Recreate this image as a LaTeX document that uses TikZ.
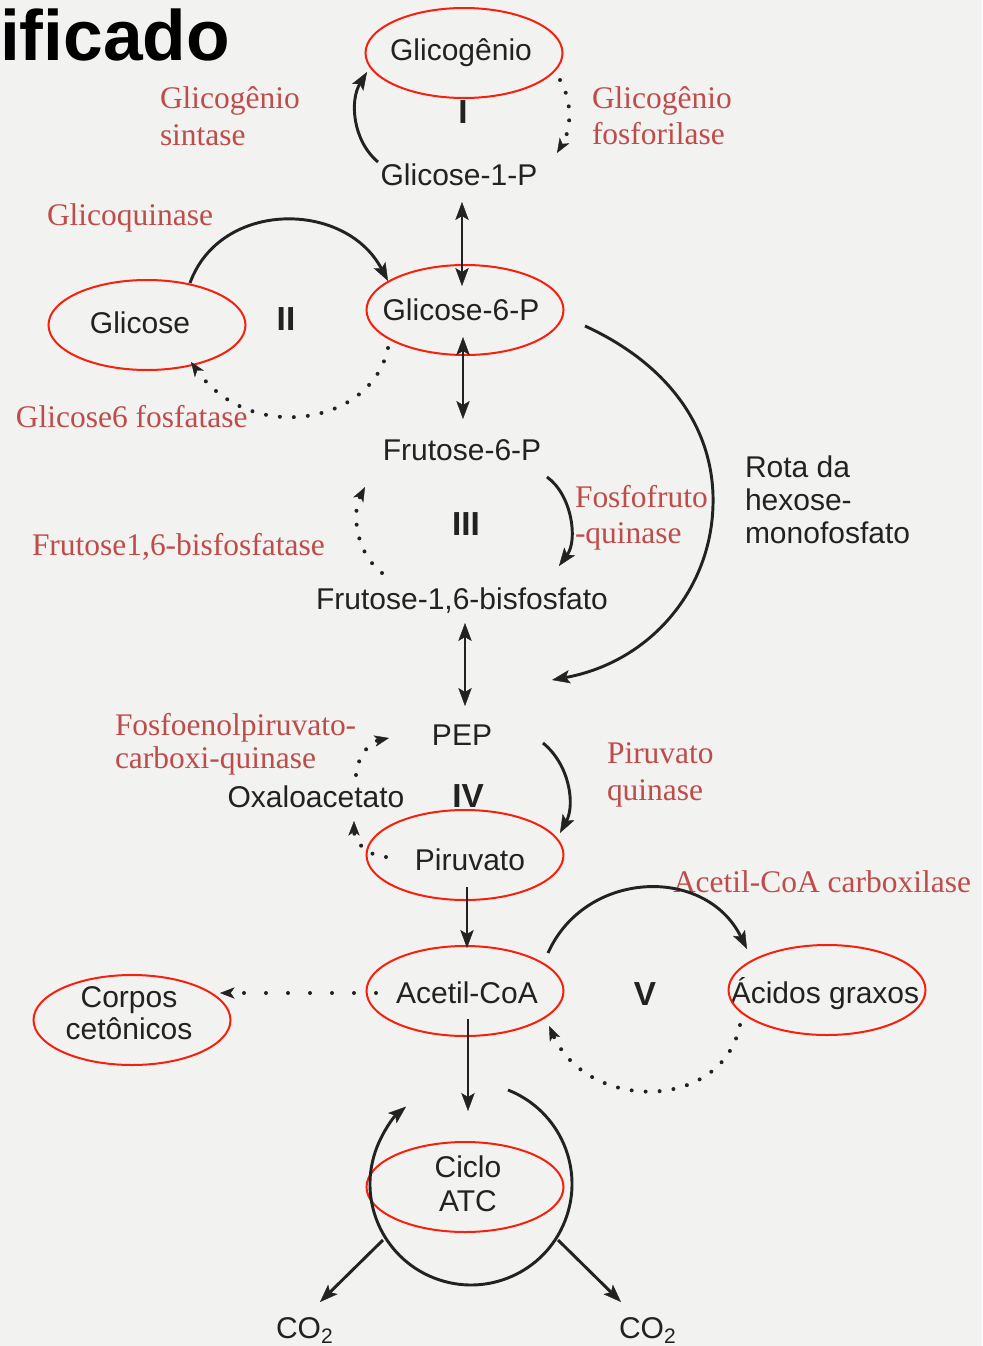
\documentclass[tikz,border=0pt]{standalone}
\usepackage{fontspec}
\setmainfont{Liberation Serif}
\setsansfont{Liberation Sans}
\usetikzlibrary{arrows.meta,shapes.geometric}
\definecolor{paper}{RGB}{242,242,241}
\definecolor{ink}{RGB}{34,34,34}
\definecolor{enz}{RGB}{190,76,74}
\definecolor{ring}{RGB}{246,32,12}

\begin{document}
\begin{tikzpicture}[x=0.75pt,y=-0.75pt,
  every node/.style={inner sep=0pt,outer sep=0pt},
  met/.style={font=\sffamily\fontsize{22.5}{27}\selectfont,text=ink,anchor=base},
  metl/.style={met,anchor=base west},
  enzyme/.style={font=\rmfamily\fontsize{23.6}{28}\selectfont,text=enz,anchor=base west},
  stage/.style={font=\sffamily\bfseries\fontsize{25}{30}\selectfont,text=ink,anchor=base},
  ringed/.style={draw=ring,line width=1.5pt,ellipse,minimum width=147.75pt,minimum height=67.5pt},
  head/.tip={Stealth[length=13.5pt,width=10pt,inset=3pt,line width=0.3pt]},
  smallhead/.tip={Stealth[length=11pt,width=8.5pt,inset=3pt,line width=0.3pt]},
  flow/.style={draw=ink,line width=2.2pt,-head},
  both/.style={draw=ink,line width=2.2pt,head-head},
  dots/.style={draw=ink,line width=3pt,line cap=round,dash pattern=on 0pt off 10.5pt,-smallhead},
]
\useasboundingbox (0,0) rectangle (982,1346);
\fill[paper] (0,0) rectangle (982,1346);

% heading fragment
\node[font=\sffamily\bfseries\fontsize{53.5}{60}\selectfont,anchor=base west,text=black] (title) at (0,60) {ificado};

% metabolites
\node[met] (glicogenio) at (461,60) {Glicogênio};
\node[met] (g1p) at (459,185) {Glicose-1-P};
\node[met] (g6p) at (461,320) {Glicose-6-P};
\node[met] (glicose) at (140,333) {Glicose};
\node[met] (f6p) at (462,460) {Frutose-6-P};
\node[met] (f16bp) at (462,609) {Frutose-1,6-bisfosfato};
\node[met] (pep) at (462,745) {PEP};
\node[met] (oaa) at (316,807) {Oxaloacetato};
\node[met] (piruvato) at (470,870) {Piruvato};
\node[met] (acetil) at (467,1003) {Acetil-CoA};
\node[met] (corpos) at (129,1007) {Corpos};
\node[met] (cetonicos) at (129,1039) {cetônicos};
\node[met] (acidos) at (825,1003) {Ácidos graxos};
\node[met] (ciclo) at (468,1177) {Ciclo};
\node[met] (atc) at (468,1211) {ATC};
\node[metl] (co2a) at (276,1338) {CO\textsubscript{2}};
\node[metl] (co2b) at (619,1338) {CO\textsubscript{2}};
\node[metl] (rota1) at (745,477) {Rota da};
\node[metl] (rota2) at (745,510) {hexose-};
\node[metl] (rota3) at (745,543) {monofosfato};

% stages
\node[stage] (st1) at (463,123) {I};
\node[stage] (st2) at (286,330) {II};
\node[stage] (st3) at (466,535) {III};
\node[stage] (st4) at (468,807) {IV};
\node[stage] (st5) at (645,1005) {V};

% enzymes
\node[enzyme] (gs1) at (160,108) {Glicogênio};
\node[enzyme] (gs2) at (160,145) {sintase};
\node[enzyme] (gp1) at (592,108) {Glicogênio};
\node[enzyme] (gp2) at (592,144) {fosforilase};
\node[enzyme] (gk) at (47,225) {Glicoquinase};
\node[enzyme] (g6pase) at (16,427) {Glicose6 fosfatase};
\node[enzyme] (fbpase) at (32,555) {Frutose1,6-bisfosfatase};
\node[enzyme] (pfk1) at (575,507) {Fosfofruto};
\node[enzyme] (pfk2) at (575,543) {-quinase};
\node[enzyme] (pepck1) at (115,735) {Fosfoenolpiruvato-};
\node[enzyme] (pepck2) at (115,768) {carboxi-quinase};
\node[enzyme] (pk1) at (607,763) {Piruvato};
\node[enzyme] (pk2) at (607,800) {quinase};
\node[enzyme] (acc) at (673,892) {Acetil-CoA carboxilase};

% red rings
\node[ringed] (r-glicogenio) at (464,53) {};
\node[ringed] (r-glicose) at (147,325) {};
\node[ringed] (r-g6p) at (465,310) {};
\node[ringed] (r-piruvato) at (465,855) {};
\node[ringed] (r-acetil) at (465,991) {};
\node[ringed] (r-corpos) at (132,1020) {};
\node[ringed] (r-acidos) at (827,990) {};
\node[ringed] (r-ciclo) at (465,1187) {};

% connector end points
\coordinate (gsA) at (378,162);   \coordinate (gsB) at (367,72);
\coordinate (gpA) at (560,80);    \coordinate (gpB) at (557,153);
\coordinate (ga) at (462,202);    \coordinate (gb) at (462,286);
\coordinate (gc) at (463,337);    \coordinate (gd) at (463,419);
\coordinate (ge) at (465,623);    \coordinate (gf) at (465,706);
\coordinate (gkA) at (190,283);   \coordinate (gkB) at (388,281);
\coordinate (fpA) at (388,348);   \coordinate (fpB) at (191,362);
\coordinate (pfkA) at (547,477);  \coordinate (pfkB) at (559,566);
\coordinate (fbA) at (382,573);   \coordinate (fbB) at (365,487);
\coordinate (hmA) at (585,326);   \coordinate (hmM) at (713,505);  \coordinate (hmB) at (552,680);
\coordinate (pkA) at (543,743);   \coordinate (pkB) at (560,833);
\coordinate (pcA) at (356,775);   \coordinate (pcB) at (389,738);
\coordinate (pcC) at (386,857);   \coordinate (pcD) at (354,821);
\coordinate (paA) at (467,887);   \coordinate (paB) at (467,948);
\coordinate (acA) at (468,1019);  \coordinate (acB) at (468,1111);
\coordinate (kbA) at (376,993);   \coordinate (kbB) at (220,993);
\coordinate (faA) at (548,953);   \coordinate (faB) at (747,949);
\coordinate (boA) at (740,1025);  \coordinate (boB) at (549,1026);
\coordinate (cyA) at (508,1090);
\coordinate (c1A) at (383,1240);  \coordinate (c1B) at (320,1302);
\coordinate (c2A) at (558,1240);  \coordinate (c2B) at (621,1302);

% glycogen
\draw[flow] (gsA) .. controls (352,140) and (350,100) .. (gsB);
\draw[dots] (gpA) .. controls (572,100) and (572,128) .. (gpB);
\draw[both] (ga) -- (gb);
\draw[both] (gc) -- (gd);
% glucose
\draw[flow] (gkA) .. controls (220,200) and (345,200) .. (gkB);
\draw[dots] (fpA) .. controls (372,425) and (250,445) .. (fpB);
% fructose
\draw[flow] (pfkA) .. controls (572,495) and (578,540) .. (pfkB);
\draw[dots] (fbA) .. controls (355,552) and (352,512) .. (fbB);
\draw[flow] (hmA) .. controls (670,365) and (715,430) .. (hmM) .. controls (711,590) and (650,662) .. (hmB);
\draw[both] (ge) -- (gf);
% pyruvate
\draw[flow] (pkA) .. controls (570,765) and (575,805) .. (pkB);
\draw[dots] (pcA) .. controls (358,755) and (370,742) .. (pcB);
\draw[dots] (pcC) .. controls (368,856) and (354,842) .. (pcD);
\draw[flow] (paA) -- (paB);
% acetyl-CoA
\draw[flow] (acA) -- (acB);
\draw[dots,dash pattern=on 0pt off 16.5pt] (kbA) -- (kbB);
\draw[flow] (faA) .. controls (585,870) and (705,865) .. (faB);
\draw[dots] (boA) .. controls (722,1112) and (588,1112) .. (boB);
% TCA cycle
\draw[flow] (cyA) arc[start angle=-68.5,end angle=230,radius=101];
\draw[flow] (c1A) -- (c1B);
\draw[flow] (c2A) -- (c2B);
\end{tikzpicture}
\end{document}
